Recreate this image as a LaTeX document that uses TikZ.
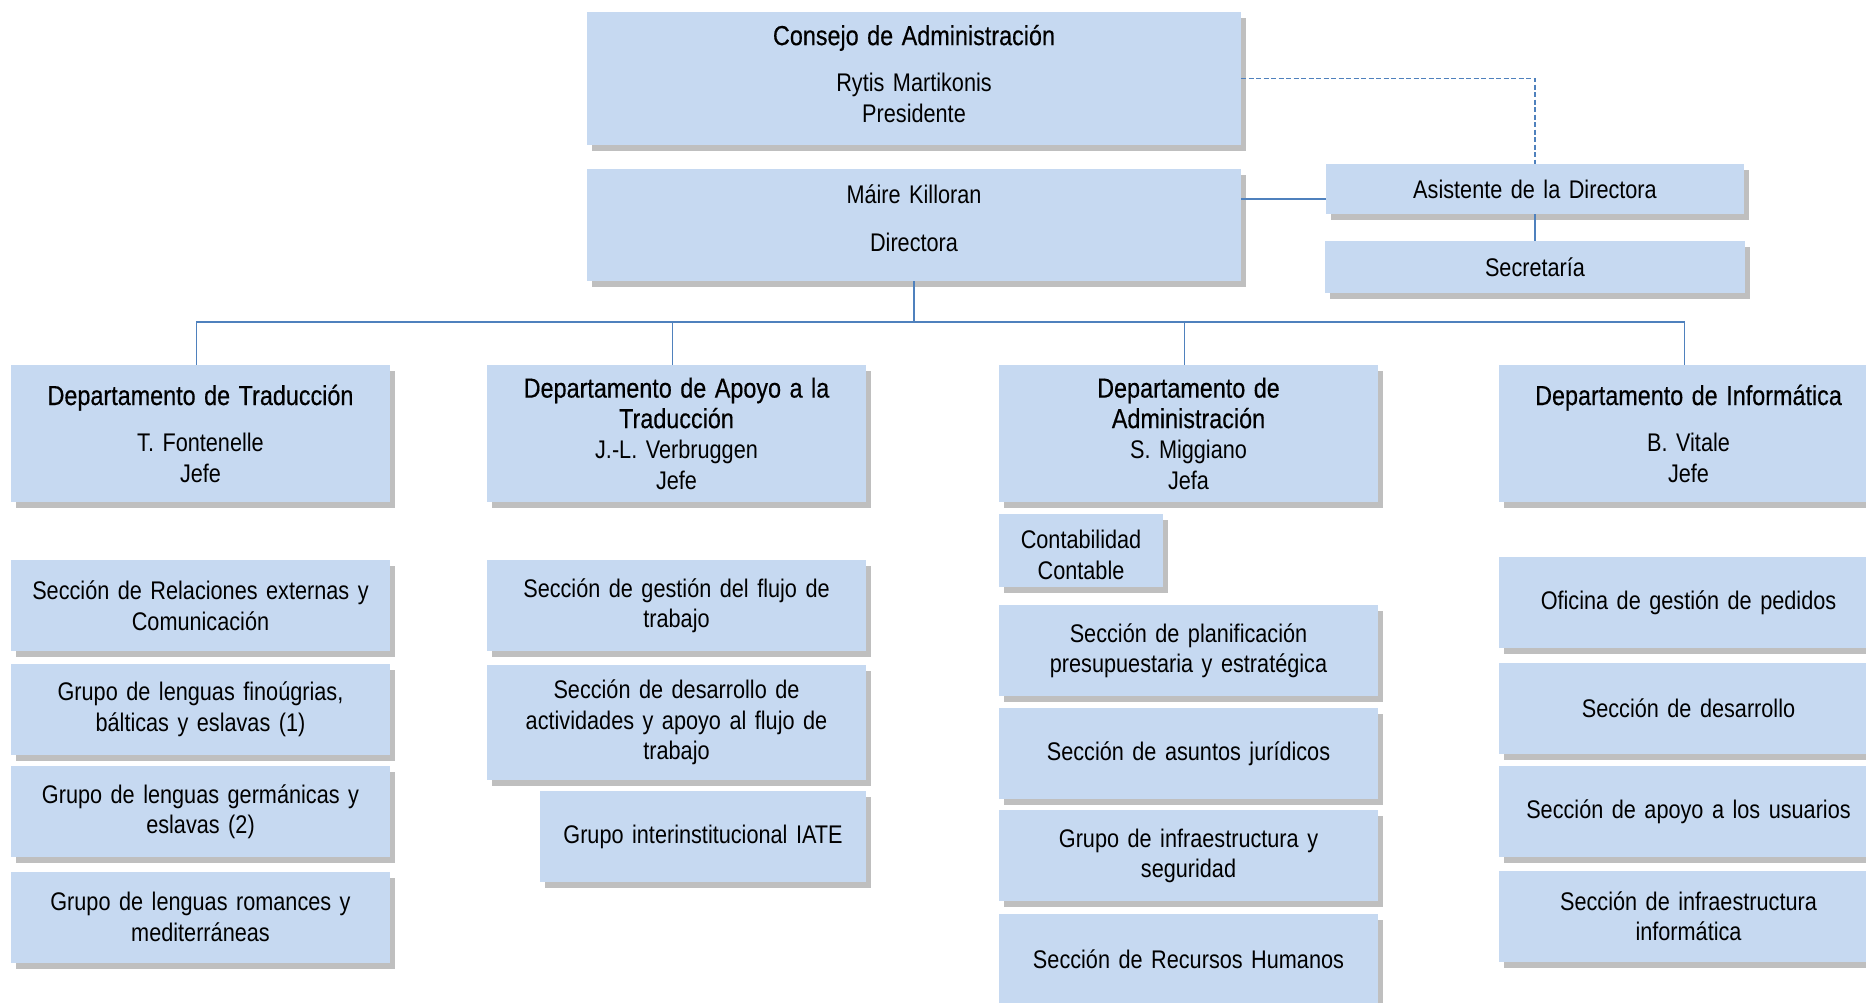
\documentclass[tikz,border=0pt]{standalone}
\usepackage{fontspec}
\setmainfont{Liberation Sans}[FakeStretch=0.85]
\newfontfamily\headfont{Liberation Sans}[FakeStretch=0.85,FakeBold=0.4]
\usetikzlibrary{positioning,shadows}

\definecolor{boxblue}{RGB}{198,217,241}
\definecolor{linkblue}{RGB}{79,129,189}
\definecolor{shadowgray}{RGB}{191,191,191}

\newcommand{\unithead}[1]{{\headfont\fontsize{27.5}{30.5}\selectfont #1}}

\tikzset{
  unit/.style={rectangle, fill=boxblue, inner sep=0pt, align=center,
    font=\fontsize{25.5}{30.5}\selectfont,
    drop shadow={shadow xshift=5pt, shadow yshift=-6pt, fill=shadowgray, opacity=1}},
  dept/.style={unit, minimum width=379pt, text width=369pt, minimum height=137pt},
  sect/.style={unit, minimum width=379pt, text width=369pt, minimum height=91pt},
  link/.style={draw=linkblue, line width=1.5pt}
}

\begin{document}
\begin{tikzpicture}[x=1pt,y=-1pt]
  \useasboundingbox (0,0) rectangle (1866,1003);
  \clip (0,0) rectangle (1866,1003);

  % top of the chart
  \node[unit, minimum width=654pt, text width=640pt, minimum height=133pt, text depth=87pt] (consejo) at (914,78.5)
    {\unithead{Consejo de Administración}\\[16pt] Rytis Martikonis\\ Presidente};
  \node[unit, minimum width=654pt, text width=640pt, minimum height=112pt, text depth=61.5pt] (dir) at (914,225)
    {Máire Killoran\\[17pt] Directora};
  \node[unit, minimum width=418pt, text width=408pt, minimum height=50pt] (asist) at (1535,189)
    {Asistente de la Directora};
  \node[unit, minimum width=420pt, text width=410pt, minimum height=52pt] (secr) at (1535,267)
    {Secretaría};

  % departments
  \node[dept] (trad) at (200.5,433.5)
    {\unithead{Departamento de Traducción}\\[16pt] T. Fontenelle\\ Jefe};
  \node[dept] (apoyo) at (676.5,433.5)
    {\unithead{Departamento de Apoyo a la\\ Traducción}\\ J.-L. Verbruggen\\ Jefe};
  \node[dept] (adm) at (1188.5,433.5)
    {\unithead{Departamento de\\ Administración}\\ S. Miggiano\\ Jefa};
  \node[dept] (info) at (1688.5,433.5)
    {\unithead{Departamento de Informática}\\[16pt] B. Vitale\\ Jefe};

  % Traduccion
  \node[sect, below=58pt of trad] (rel) {Sección de Relaciones externas y\\ Comunicación};
  \node[sect, below=12pt of rel] (fino) {Grupo de lenguas finoúgrias,\\ bálticas y eslavas (1)};
  \node[sect, below=11pt of fino] (germ) {Grupo de lenguas germánicas y\\ eslavas (2)};
  \node[sect, below=14pt of germ] (roman) {Grupo de lenguas romances y\\ mediterráneas};

  % Apoyo a la Traduccion
  \node[sect, below=58pt of apoyo] (flujo) {Sección de gestión del flujo de\\ trabajo};
  \node[sect, minimum height=115pt, below=13pt of flujo] (activ)
    {Sección de desarrollo de\\ actividades y apoyo al flujo de\\ trabajo};
  \node[sect, minimum width=326pt, text width=316pt, below=11pt of activ.south east, anchor=north east] (iate)
    {Grupo interinstitucional IATE};

  % Administracion
  \node[unit, minimum width=164pt, text width=154pt, minimum height=73pt, text height=26pt,
        below=12pt of adm.south west, anchor=north west] (cont) {Contabilidad\\ Contable};
  \node[sect, below=103pt of adm] (plan) {Sección de planificación\\ presupuestaria y estratégica};
  \node[sect, below=11pt of plan] (jur) {Sección de asuntos jurídicos};
  \node[sect, below=11pt of jur] (infra) {Grupo de infraestructura y\\ seguridad};
  \node[sect, below=12pt of infra] (rrhh) {Sección de Recursos Humanos};

  % Informatica
  \node[sect, below=55pt of info] (pedidos) {Oficina de gestión de pedidos};
  \node[sect, below=14pt of pedidos] (desa) {Sección de desarrollo};
  \node[sect, below=12pt of desa] (usuar) {Sección de apoyo a los usuarios};
  \node[sect, below=13pt of usuar] (infinf) {Sección de infraestructura\\ informática};

  % connectors
  \coordinate (bus) at (914,322);
  \draw[link] (dir.south) -- (bus);
  \foreach \d in {trad,apoyo,adm,info}
    \draw[link] (bus) -| ([xshift=-4pt]\d.north);
  \draw[link, dash pattern=on 5pt off 2.5pt] (consejo.east) -| (asist.north);
  \coordinate (ast) at ([yshift=-10pt]asist.west);
  \draw[link, line width=1.3pt] (ast) -- (ast -| dir.east);
  \draw[link] (asist) -- (secr);
\end{tikzpicture}
\end{document}
